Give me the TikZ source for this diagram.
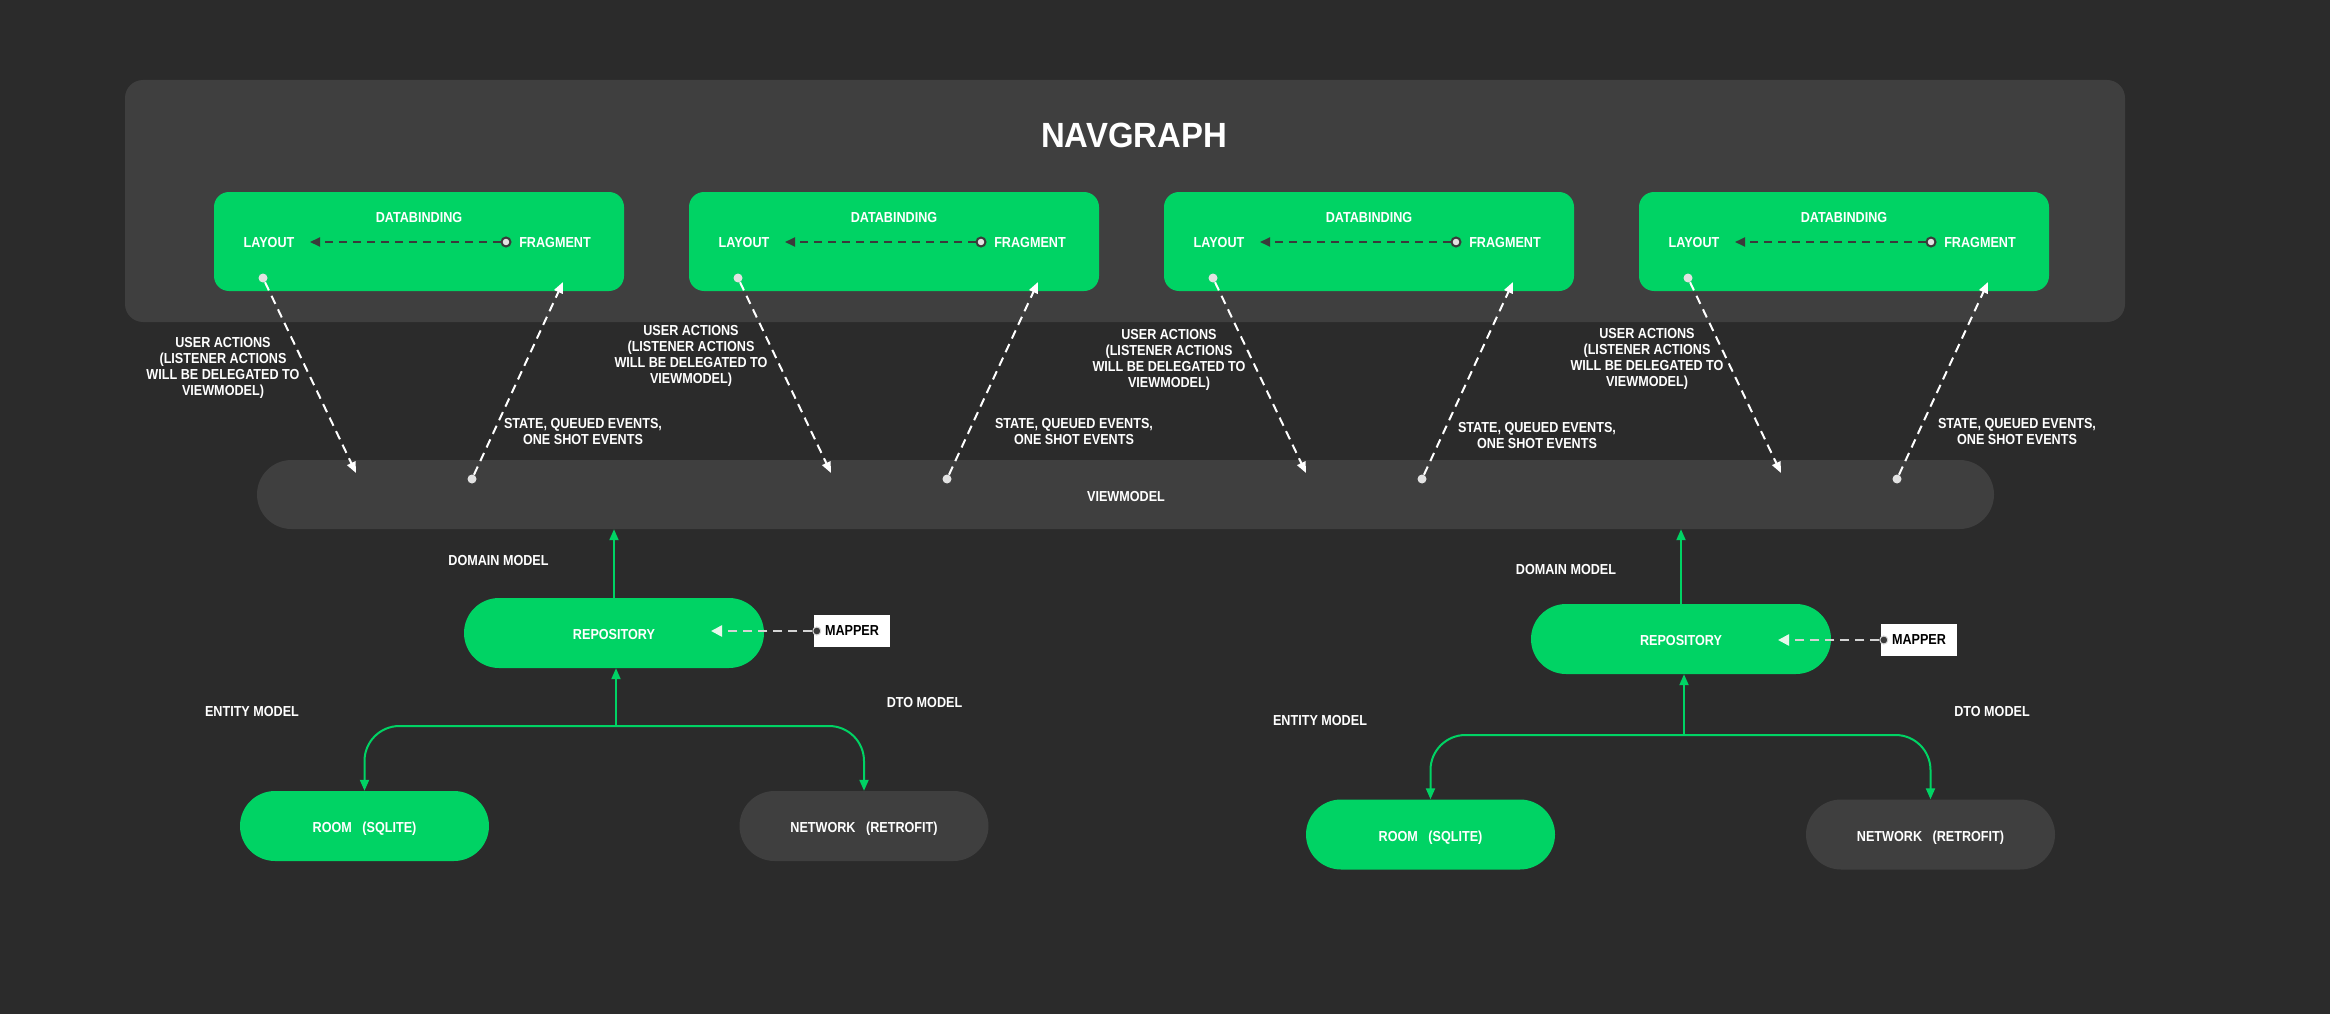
\documentclass[tikz,border=0pt]{standalone}
\usepackage{fontspec}
\newfontfamily\lblfont[FakeStretch=0.87]{Liberation Sans}
\newfontfamily\ttlfont[FakeStretch=0.94]{Liberation Sans}
\usetikzlibrary{arrows.meta}
\definecolor{bg}{HTML}{2B2B2B}
\definecolor{panel}{HTML}{3F3F3F}
\definecolor{grn}{HTML}{00D364}
\definecolor{dk}{HTML}{3A3A3A}
\definecolor{lg}{HTML}{E2E2E2}
\definecolor{mg}{HTML}{D4D4D4}
\definecolor{tipg}{HTML}{E6F8EC}
\tikzset{
  lbl/.style={text=white, font={\lblfont\bfseries\fontsize{14.5}{16}\selectfont}, inner sep=0pt, text height=10.4pt, text depth=0pt},
  mlbl/.style={text=white, font={\lblfont\bfseries\fontsize{14.5}{16}\selectfont}, inner sep=0pt, align=center},
  dbbox/.style={fill=grn, rounded corners=15pt, minimum width=410pt, minimum height=99pt, inner sep=0pt},
  pill/.style={rounded corners=35pt, minimum width=249pt, minimum height=70pt, inner sep=0pt},
  wdot/.style={circle, fill=lg, minimum size=9pt, inner sep=0pt},
  odot/.style={circle, fill=lg, draw=dk, line width=2pt, minimum size=9pt, inner sep=0pt},
  mdot/.style={circle, fill=dk, draw=mg, line width=1pt, minimum size=8pt, inner sep=0pt},
  wdash/.style={draw=white, line width=2pt, dash pattern=on 9pt off 6pt, -{Triangle[length=11pt,width=9pt,fill=white]}},
  dkdash/.style={draw=dk, line width=2pt, dash pattern=on 8pt off 6pt, -{Triangle[length=10pt,width=9pt]}},
  mdash/.style={draw=mg, line width=2.5pt, dash pattern=on 9pt off 6pt, -{Triangle[length=11pt,width=11pt,color=tipg,fill=tipg]}},
  garr/.style={draw=grn, line width=2pt, -{Triangle[length=11pt,width=9pt]}},
}
\begin{document}
\begin{tikzpicture}[x=1pt,y=-1pt]
\useasboundingbox (0,0) rectangle (2330,1014);
\fill[bg] (0,0) rectangle (2330,1014);
% navgraph panel
\node[fill=panel, rounded corners=18pt, minimum width=2000pt, minimum height=242pt, inner sep=0pt] (nav) at (1125,201) {};
\node[text=white, font={\ttlfont\bfseries\fontsize{35}{40}\selectfont}, inner sep=0pt, text height=25pt, text depth=0pt] (title) at (1134,135) {NAVGRAPH};
% viewmodel bar
\node[fill=panel, rounded corners=34.5pt, minimum width=1737pt, minimum height=69pt, inner sep=0pt] (vm) at (1125.5,494.5) {};
\node[lbl] (vmt) at (1126,496) {VIEWMODEL};
% four databinding boxes
\foreach \i in {0,1,2,3}{
  \node[dbbox] (db\i) at ({419+475*\i},241.5) {};
  \node[lbl] (dbt\i) at ({419+475*\i},217) {DATABINDING};
  \node[lbl] (lay\i) at ({269+475*\i},242) {LAYOUT};
  \node[lbl] (frg\i) at ({555+475*\i},242) {FRAGMENT};
  \node[odot] (fo\i) at ({506+475*\i},242) {};
  \coordinate (lt\i) at ({310+475*\i},242);
  \draw[dkdash] (fo\i) -- (lt\i);
  \node[wdot] (bd\i) at ({263+475*\i},278) {};
  \coordinate (bt\i) at ({356+475*\i},473);
  \draw[wdash] (bd\i) -- (bt\i);
  \node[wdot] (vd\i) at ({472+475*\i},479) {};
  \coordinate (ut\i) at ({563+475*\i},282);
  \draw[wdash] (vd\i) -- (ut\i);
}
% labels
\foreach \i/\ux/\uy/\sx/\sy in {0/223/368/583/432, 1/691/356/1074/432, 2/1169/360/1537/436, 3/1647/359/2017/432}{
  \node[mlbl] (ua\i) at (\ux,\uy) {USER ACTIONS\\(LISTENER ACTIONS\\WILL BE DELEGATED TO\\VIEWMODEL)};
  \node[mlbl] (st\i) at (\sx,\sy) {STATE, QUEUED EVENTS,\\ONE SHOT EVENTS};
}
% left lower group
\node[pill, fill=grn, minimum width=300pt] (repo1) at (614,633) {};
\node[lbl] (repo1t) at (614,634) {REPOSITORY};
\node[fill=white, minimum width=76pt, minimum height=32pt, inner sep=0pt, text=black, font={\lblfont\bfseries\fontsize{14.5}{16}\selectfont}] (map1) at (852,631) {MAPPER};
\node[mdot] (md1) at ([xshift=3pt]map1.west) {};
\coordinate (mt1) at (711,631);
\draw[mdash] (md1) -- (mt1);
\draw[garr] (repo1.north) -- (repo1.north |- vm.south);
\node[lbl] (dom1) at (498.5,560) {DOMAIN MODEL};
\node[pill, fill=grn] (room1) at (364.5,826) {};
\node[lbl] (room1t) at (364.5,827) {ROOM\ \ \ (SQLITE)};
\node[pill, fill=panel] (net1) at (864,826) {};
\node[lbl] (net1t) at (864,827) {NETWORK\ \ \ (RETROFIT)};
\coordinate (sp1) at (616,726);
\draw[garr] (sp1) -- (sp1 |- repo1.south);
\draw[garr, rounded corners=35pt] (sp1) -| (room1.north);
\draw[garr, rounded corners=35pt] (sp1) -| (net1.north);
\node[lbl] (ent1) at (252,711) {ENTITY MODEL};
\node[lbl] (dto1) at (924.5,702) {DTO MODEL};
% right lower group
\node[pill, fill=grn, minimum width=300pt] (repo2) at (1681,639) {};
\node[lbl] (repo2t) at (1681,640) {REPOSITORY};
\node[fill=white, minimum width=76pt, minimum height=32pt, inner sep=0pt, text=black, font={\lblfont\bfseries\fontsize{14.5}{16}\selectfont}] (map2) at (1919,640) {MAPPER};
\node[mdot] (md2) at ([xshift=3pt]map2.west) {};
\coordinate (mt2) at (1778,640);
\draw[mdash] (md2) -- (mt2);
\draw[garr] (repo2.north) -- (repo2.north |- vm.south);
\node[lbl] (dom2) at (1566,569) {DOMAIN MODEL};
\node[pill, fill=grn] (room2) at (1430.5,834.5) {};
\node[lbl] (room2t) at (1430.5,836) {ROOM\ \ \ (SQLITE)};
\node[pill, fill=panel] (net2) at (1930.5,834.5) {};
\node[lbl] (net2t) at (1930.5,836) {NETWORK\ \ \ (RETROFIT)};
\coordinate (sp2) at (1684,735);
\draw[garr] (sp2) -- (sp2 |- repo2.south);
\draw[garr, rounded corners=35pt] (sp2) -| (room2.north);
\draw[garr, rounded corners=35pt] (sp2) -| (net2.north);
\node[lbl] (ent2) at (1320,720) {ENTITY MODEL};
\node[lbl] (dto2) at (1992,711) {DTO MODEL};
\end{tikzpicture}
\end{document}
